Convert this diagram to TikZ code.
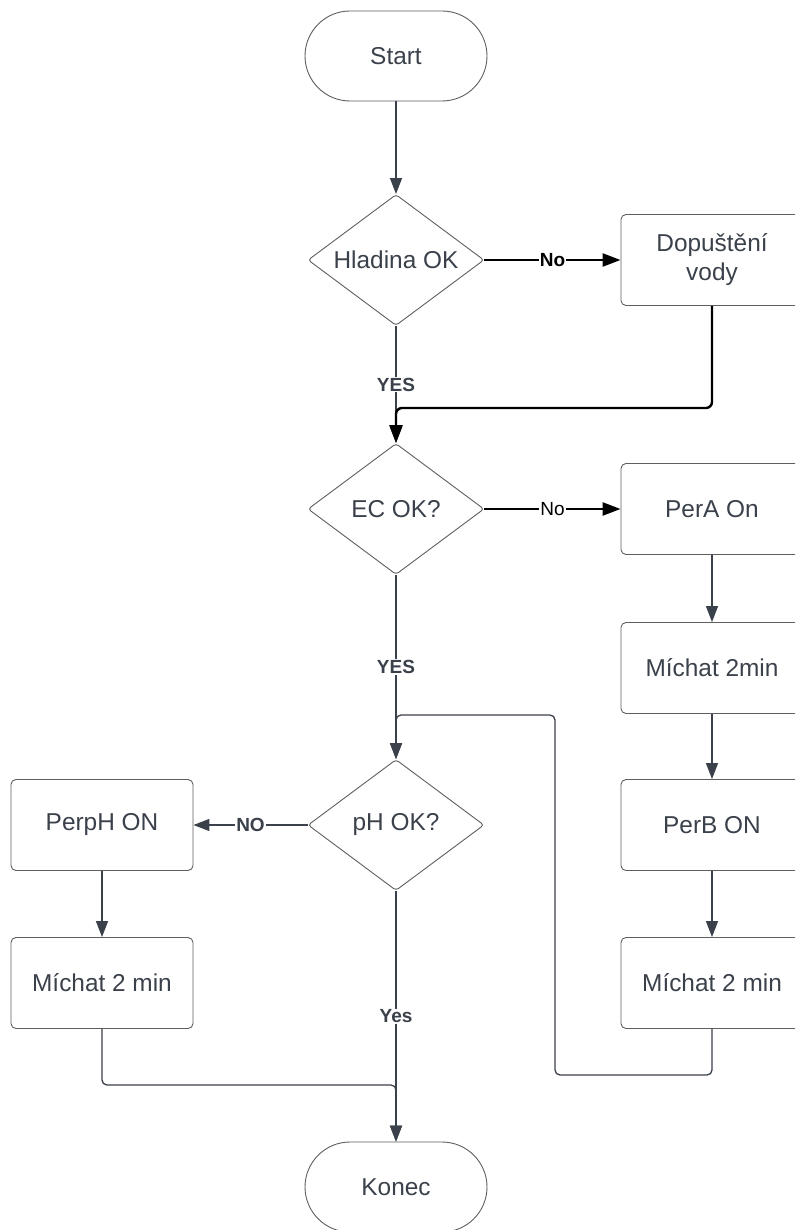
\documentclass[tikz,border=0pt]{standalone}
\usepackage{fontspec}
\setmainfont{Liberation Sans}
\usetikzlibrary{shapes.geometric,arrows.meta}
\definecolor{ink}{HTML}{3A414A}
\definecolor{edge}{HTML}{5E5E5E}
\tikzset{
  base/.style={draw=edge, line width=0.9pt, text=ink, align=center, inner sep=0pt,
    font=\fontsize{24.4}{29}\selectfont},
  procbox/.style={base, rectangle, rounded corners=5pt, minimum width=182pt, minimum height=91pt},
  term/.style={base, rectangle, rounded corners=45pt, minimum width=182pt, minimum height=90pt},
  decide/.style={base, diamond, aspect=1.34, rounded corners=3pt, minimum width=176pt, minimum height=131pt},
  flow/.style={draw=ink, line width=1.3pt, -{Triangle[length=16pt,width=12pt]}},
  strong/.style={draw=black, line width=2.4pt, -{Triangle[length=18pt,width=13pt]}},
  lbl/.style={fill=white, text=ink, inner sep=1pt, font=\fontsize{19}{22}\selectfont\bfseries},
  lblreg/.style={fill=white, text=ink, inner sep=1pt, font=\fontsize{19}{22}\selectfont},
}
\begin{document}
\begin{tikzpicture}[x=1pt, y=-1pt]
  \useasboundingbox (0,0) rectangle (795,1230);
  \clip (0,0) rectangle (795,1230);

  % nodes
  \node[term]     (start) at (396,56)   {Start};
  \node[decide]   (hl)    at (396,260)  {Hladina OK};
  \node[procbox]  (dop)   at (712,260)  {Dopuštění\\vody};
  \node[decide]   (ec)    at (396,509)  {EC OK?};
  \node[procbox]  (pera)  at (712,509)  {PerA On};
  \node[procbox]  (mix1)  at (712,668)  {Míchat 2min};
  \node[procbox]  (perb)  at (712,825)  {PerB ON};
  \node[procbox]  (mix2)  at (712,983)  {Míchat 2 min};
  \node[decide]   (ph)    at (396,825)  {pH OK?};
  \node[procbox]  (perph) at (102,825)  {PerpH ON};
  \node[procbox]  (mix3)  at (102,983)  {Míchat 2 min};
  \node[term]     (end)   at (396,1187) {Konec};

  % bend levels
  \coordinate (refill) at (0,408);
  \coordinate (loopL)  at (555,1075);
  \coordinate (loopT)  at (555,715);
  \coordinate (joinB)  at (0,1085);

  % main column
  \draw[flow] (start.south) -- (hl.north);
  \draw[flow] (hl.south) -- node[lbl]{YES} (ec.north);
  \draw[flow] (ec.south) -- node[lbl]{YES} (ph.north);
  \draw[flow] (ph.south) -- node[lbl]{Yes} (end.north);

  % level branch
  \draw[strong] (hl.east) -- node[lbl, text=black]{No} (dop.west);
  \draw[strong, rounded corners=6pt] (dop.south) -- (dop.south |- refill)
    -- (ec.north |- refill) -- (ec.north);

  % EC branch
  \draw[strong] (ec.east) -- node[lblreg, text=black]{No} (pera.west);
  \draw[flow] (pera.south) -- (mix1.north);
  \draw[flow] (mix1.south) -- (perb.north);
  \draw[flow] (perb.south) -- (mix2.north);
  \draw[flow, rounded corners=5pt] (mix2.south) -- (mix2.south |- loopL) -- (loopL)
    -- (loopT) -- (ph.north |- loopT) -- (ph.north);

  % pH branch
  \draw[flow] (ph.west) -- node[lbl]{NO} (perph.east);
  \draw[flow] (perph.south) -- (mix3.north);
  \draw[flow, rounded corners=5pt] (mix3.south) -- (mix3.south |- joinB)
    -- (end.north |- joinB) -- (end.north);
\end{tikzpicture}
\end{document}
